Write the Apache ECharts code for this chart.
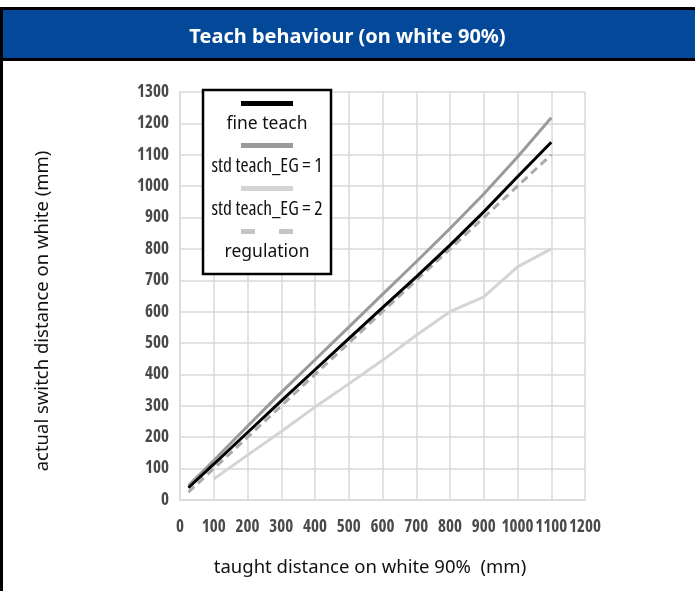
<!DOCTYPE html>
<html>
<head>
<meta charset="utf-8">
<title>Teach behaviour</title>
<script src="https://cdn.jsdelivr.net/npm/echarts@6.0.0/dist/echarts.min.js"></script>
<style>
    html, body {
        margin: 0;
        padding: 0;
        background: #fff;
    }
    #chart {
        width: 695px;
        height: 591px;
    }
</style>
</head>
<body>
<div id="chart"></div>
<script>
// taught distance (x) in mm
const taught = [25, 100, 200, 300, 400, 500, 600, 700, 800, 900, 1000, 1100]
// actual switch distance per mode (mm)
const fineTeach = [39, 114, 215, 316, 415, 514, 613, 711, 812, 918, 1030, 1140]
const stdTeachEG1 = [46, 126, 235, 343, 447, 551, 655, 759, 865, 975, 1093, 1218]
const stdTeachEG2 = [null, 67, 143, 218, 296, 370, 445, 525, 600, 647, 743, 800]
const regulation = [25, 100, 200, 300, 400, 500, 600, 700, 800, 900, 1000, 1100]

const seriesNames = ['fine teach', 'std teach_EG = 1', 'std teach_EG = 2', 'regulation']

// zip x with y values
function pairs(ys) {
    return taught.map((x, i) => [x, ys[i]])
}

const gridColor = '#d9d9d9'

// condensed bold tick labels (Open Sans has a width axis)
const tickLabel = {
    formatter: v => String(v),
    color: '#4a4a4a',
    fontFamily: 'Open Sans',
    fontWeight: 'bold extra-condensed',
    fontSize: 17
}

const myChart = echarts.init(document.getElementById('chart'))

let option = {
    backgroundColor: '#fff',
    animation: false,
    title: {
        text: 'Teach behaviour (on white 90%)',
        left: 'center',
        top: 27,
        padding: 0,
        textStyle: {
            color: '#fff',
            fontFamily: 'Noto Sans',
            fontWeight: 'bold',
            fontSize: 20,
            lineHeight: 20
        }
    },
    // the blue header bar and the black frame
    graphic: [
        {
            type: 'rect',
            z: -1,
            shape: { x: 1.5, y: 8.5, width: 700, height: 51 },
            style: { fill: '#04489a', stroke: '#000', lineWidth: 3 }
        },
        {
            type: 'line',
            shape: { x1: 1.5, y1: 8, x2: 1.5, y2: 591 },
            style: { stroke: '#000', lineWidth: 3 }
        }
    ],
    legend: {
        data: seriesNames,
        orient: 'vertical',
        left: 203,
        top: 90,
        padding: [7.5, 6, 13, 0],
        itemGap: 6.5,
        itemWidth: 0,
        itemHeight: 0,
        selectedMode: false,
        backgroundColor: '#fff',
        borderColor: '#000',
        borderWidth: 2.5,
        borderRadius: 0,
        itemStyle: { opacity: 0 },
        lineStyle: { opacity: 0 },
        formatter: function (name) {
            if (name === 'fine teach') return '{fl|}\n{big|fine teach}'
            if (name === 'std teach_EG = 1') return '{g1|}\n{sm|std teach_EG = 1}'
            if (name === 'std teach_EG = 2') return '{g2|}\n{sm|std teach_EG = 2}'
            return '{rd|}{rg|}{rd|}\n{big|regulation}'
        },
        textStyle: {
            color: '#111',
            rich: {
                fl: { width: 52, height: 5, backgroundColor: '#000', align: 'center' },
                g1: { width: 52, height: 5, backgroundColor: '#9a9a9a', align: 'center' },
                g2: { width: 52, height: 5, backgroundColor: '#d4d4d4', align: 'center' },
                rd: { width: 14, height: 5, backgroundColor: '#c4c4c4', align: 'center' },
                rg: { width: 24, height: 5, align: 'center' },
                big: { width: 116, align: 'center', fontSize: 17.5, lineHeight: 36, fontFamily: 'Noto Sans', color: '#111' },
                sm: { width: 116, align: 'center', fontSize: 19.5, lineHeight: 36, fontFamily: 'Open Sans', fontWeight: 'normal condensed', color: '#111' }
            }
        }
    },
    grid: {
        left: 180,
        right: 110,
        top: 92,
        bottom: 91
    },
    xAxis: {
        type: 'value',
        min: 0,
        max: 1200,
        interval: 100,
        name: 'taught distance on white 90%  (mm)',
        nameLocation: 'middle',
        nameGap: 58,
        nameTextStyle: {
            color: '#111',
            fontFamily: 'Noto Sans',
            fontSize: 18.5,
            padding: [0, 25, 0, 0]
        },
        axisLine: { show: true, lineStyle: { color: gridColor, width: 1.5 } },
        axisTick: { show: false },
        splitLine: { show: true, lineStyle: { color: gridColor, width: 1.5 } },
        axisLabel: Object.assign({ margin: 19, showMaxLabel: true, hideOverlap: false }, tickLabel)
    },
    yAxis: {
        type: 'value',
        min: 0,
        max: 1300,
        interval: 100,
        name: 'actual switch distance on white (mm)',
        nameLocation: 'middle',
        nameGap: 128,
        nameTextStyle: {
            color: '#111',
            fontFamily: 'Noto Sans',
            fontSize: 18.5,
            padding: [0, 30, 0, 0]
        },
        axisLine: { show: true, lineStyle: { color: gridColor, width: 1.5 } },
        axisTick: { show: false },
        splitLine: { show: true, lineStyle: { color: gridColor, width: 1.5 } },
        axisLabel: Object.assign({ margin: 11 }, tickLabel)
    },
    series: [
        {
            name: seriesNames[1],
            type: 'line',
            data: pairs(stdTeachEG1),
            showSymbol: false,
            lineStyle: { color: '#9a9a9a', width: 3 },
            itemStyle: { color: '#9a9a9a' },
            z: 2
        },
        {
            name: seriesNames[2],
            type: 'line',
            data: pairs(stdTeachEG2),
            showSymbol: false,
            lineStyle: { color: '#d4d4d4', width: 3 },
            itemStyle: { color: '#d4d4d4' },
            z: 2
        },
        {
            name: seriesNames[3],
            type: 'line',
            data: pairs(regulation),
            showSymbol: false,
            lineStyle: { color: '#ababab', width: 3, type: [8, 5] },
            itemStyle: { color: '#ababab' },
            z: 3
        },
        {
            name: seriesNames[0],
            type: 'line',
            data: pairs(fineTeach),
            showSymbol: false,
            lineStyle: { color: '#000', width: 3 },
            itemStyle: { color: '#000' },
            z: 4
        }
    ]
}

myChart.setOption(option)
</script>
</body>
</html>
